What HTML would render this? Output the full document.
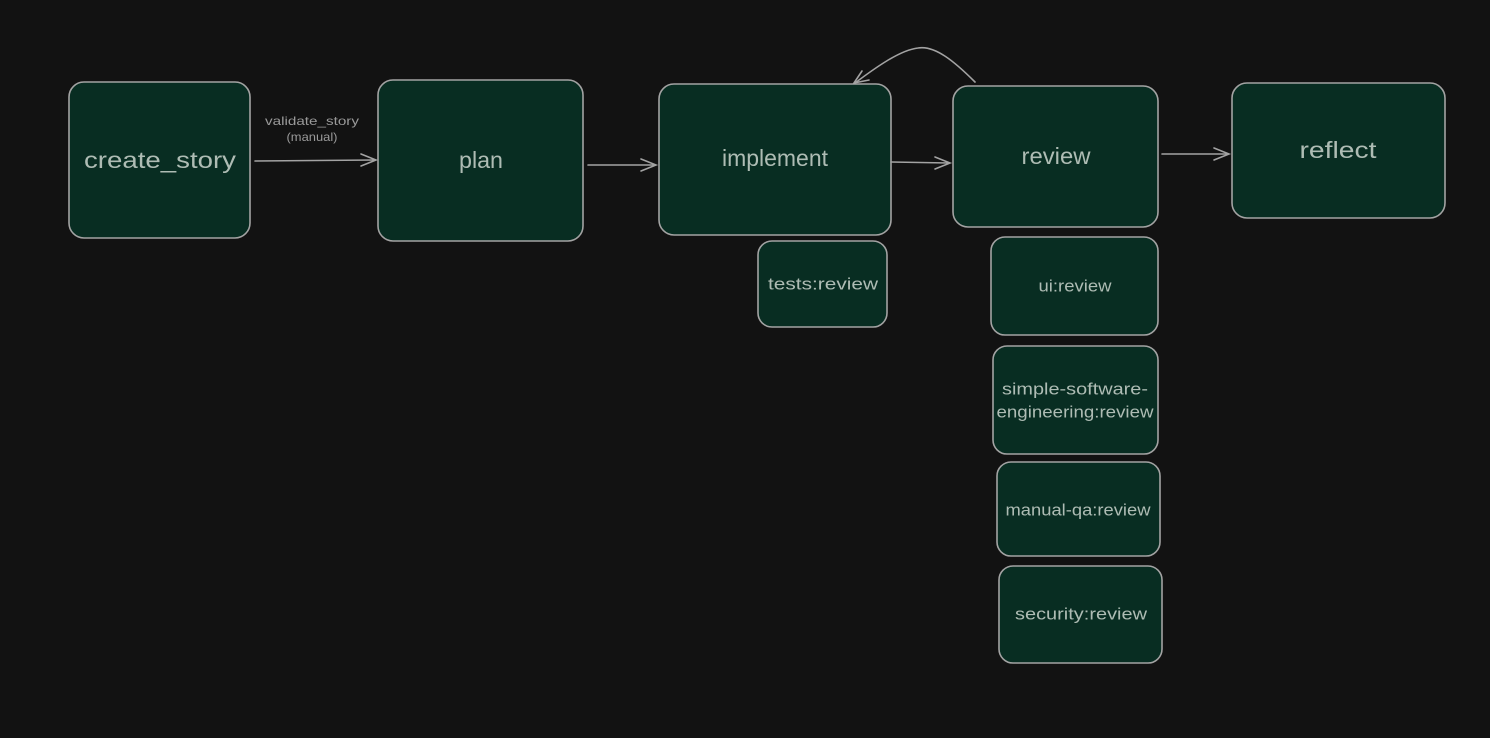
<!DOCTYPE html>
<html><head><meta charset="utf-8"><style>
html,body{margin:0;padding:0;background:#121212;}
svg{display:block;}
text{font-family:"Liberation Sans",sans-serif;fill:#aebcb4;}
</style></head><body>
<svg width="1490" height="738" viewBox="0 0 1490 738" xmlns="http://www.w3.org/2000/svg">
<rect width="1490" height="738" fill="#121212"/>
<g fill="#082d22" stroke="#a3a3a3" stroke-width="1.6">
<rect x="69" y="82" width="181" height="156" rx="15"/>
<rect x="378" y="80" width="205" height="161" rx="15"/>
<rect x="659" y="84" width="232" height="151" rx="15"/>
<rect x="953" y="86" width="205" height="141" rx="15"/>
<rect x="1232" y="83" width="213" height="135" rx="15"/>
<rect x="758" y="241" width="129" height="86" rx="14"/>
<rect x="991" y="237" width="167" height="98" rx="14"/>
<rect x="993" y="346" width="165" height="108" rx="14"/>
<rect x="997" y="462" width="163" height="94" rx="14"/>
<rect x="999" y="566" width="163" height="97" rx="14"/>
</g>
<g fill="none" stroke="#a3a3a3" stroke-width="1.6" stroke-linecap="round">
<path d="M255 161 L375 160"/><path d="M361 154 L376 160 L361 166"/>
<path d="M588 165 L655 165"/><path d="M641 159 L656 165 L641 171"/>
<path d="M891 162 L949 163"/><path d="M935 157 L950 163 L935 169"/>
<path d="M1162 154 L1228 154"/><path d="M1214 148 L1229 154 L1214 160"/>
<path d="M975 82 C955 62 935 45 918 48 C900 50 875 68 855 83"/>
<path d="M862 71 L854 83 L869 80"/>
</g>
<g text-anchor="middle" dominant-baseline="central">
<text x="160" y="160" font-size="23" textLength="152" lengthAdjust="spacingAndGlyphs">create_story</text>
<text x="481" y="160" font-size="23" textLength="44" lengthAdjust="spacingAndGlyphs">plan</text>
<text x="775" y="158" font-size="23" textLength="106" lengthAdjust="spacingAndGlyphs">implement</text>
<text x="1056" y="156" font-size="23" textLength="69" lengthAdjust="spacingAndGlyphs">review</text>
<text x="1338" y="150" font-size="23" textLength="77" lengthAdjust="spacingAndGlyphs">reflect</text>
<text x="823" y="284" font-size="17" textLength="110" lengthAdjust="spacingAndGlyphs">tests:review</text>
<text x="1075" y="286" font-size="17" textLength="73" lengthAdjust="spacingAndGlyphs">ui:review</text>
<text x="1075" y="389" font-size="17" textLength="146" lengthAdjust="spacingAndGlyphs">simple-software-</text>
<text x="1075" y="412" font-size="17" textLength="157" lengthAdjust="spacingAndGlyphs">engineering:review</text>
<text x="1078" y="510" font-size="17" textLength="145" lengthAdjust="spacingAndGlyphs">manual-qa:review</text>
<text x="1081" y="614" font-size="17" textLength="132" lengthAdjust="spacingAndGlyphs">security:review</text>
<text x="312" y="121" font-size="12" textLength="94" lengthAdjust="spacingAndGlyphs" fill="#9a9a9a" style="fill:#9a9a9a">validate_story</text>
<text x="312" y="137" font-size="12" textLength="51" lengthAdjust="spacingAndGlyphs" style="fill:#9a9a9a">(manual)</text>
</g>
</svg>
</body></html>
